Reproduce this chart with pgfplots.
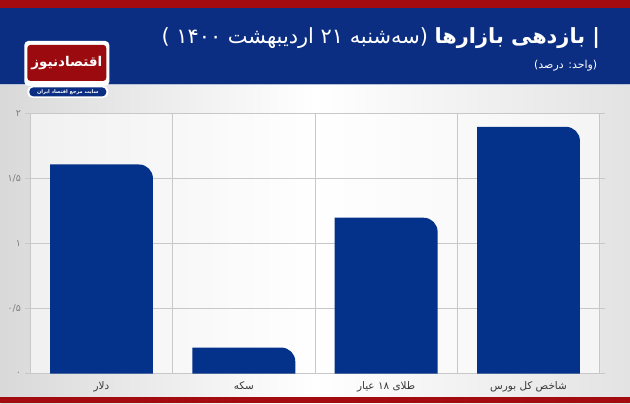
\documentclass[border=0pt]{standalone}
\usepackage{fontspec}
\usepackage{pgfplots}
\pgfplotsset{compat=1.18}
\usetikzlibrary{backgrounds}
\TeXXeTstate=1
\setmainfont{DejaVu Sans}
\newfontfamily\fa[Script=Arabic]{DejaVu Sans}
\definecolor{barblue}{HTML}{04318A}
\definecolor{bandblue}{HTML}{0B2E82}
\definecolor{topred}{HTML}{A30B10}
\definecolor{gridc}{HTML}{C8C8C8}
\definecolor{lbl}{HTML}{3A3A3A}
\newcommand\barshape{%
  \pgfsetfillcolor{barblue}%
  \pgfpathmoveto{\pgfpointanchor{path picture bounding box}{south west}}%
  \pgfpathlineto{\pgfpointanchor{path picture bounding box}{north west}}%
  \pgfpathlineto{\pgfpointadd{\pgfpointanchor{path picture bounding box}{north east}}{\pgfpoint{-14bp}{0pt}}}%
  \pgfpatharc{90}{0}{14bp}%
  \pgfpathlineto{\pgfpointanchor{path picture bounding box}{south east}}%
  \pgfpathclose
  \pgfusepath{fill}}
\pgfplotsset{roundbar/.style={ybar, bar width=103bp, bar shift=0pt, draw=none, fill=none, path picture={\barshape}}}
\begin{document}
\begin{tikzpicture}
\begin{axis}[
  width=570bp, height=260bp, scale only axis,
  xmin=-0.5, xmax=3.5, ymin=0, ymax=2,
  axis background/.style={fill=white, fill opacity=0.6},
  axis line style={gridc, line width=0.8bp},
  ytick={0,0.5,1,1.5,2},
  yticklabels={۰,۰/۵,۱,۱/۵,۲},
  xtick={0,1,2,3},
  xticklabels={{\beginR دلار\endR},{\beginR سکه\endR},{\beginR طلای ۱۸ عیار\endR},{\beginR شاخص کل بورس\endR}},
  minor xtick={-0.5,0.5,1.5,2.5,3.5},
  xminorgrids, ymajorgrids,
  grid style={gridc, line width=0.8bp},
  minor grid style={gridc, line width=0.8bp},
  major x tick style={draw=none},
  minor x tick style={draw=none},
  ytick style={gridc, line width=0.8bp},
  tick align=outside,
  major tick length=5bp,
  yticklabel style={font=\fa\fontsize{9.5}{10}\selectfont, text=gray, xshift=-1bp},
  xticklabel style={font=\fa\fontsize{10.5}{12}\selectfont, text=lbl},
  clip=false,
]
\addplot[roundbar] coordinates {(0,1.61)};
\addplot[roundbar] coordinates {(1,0.2)};
\addplot[roundbar] coordinates {(2,1.2)};
\addplot[roundbar] coordinates {(3,1.9)};
\coordinate (O) at (rel axis cs:0,0);
\end{axis}
\begin{scope}[on background layer, x=1bp, y=1bp, shift={(O)}, xshift=-30bp, yshift=-30bp]
\shade[left color=gray!30, right color=gray!22, middle color=white] (0,0) rectangle (630,404);
\end{scope}
\begin{scope}[x=1bp, y=1bp, shift={(O)}, xshift=-30bp, yshift=-30bp]
\fill[topred] (0,0) rectangle (630,7);
\fill[bandblue] (0,320) rectangle (630,396);
\fill[topred] (0,396) rectangle (630,404);
\draw[white!70!bandblue, line width=0.8bp] (0,319.6) -- (630,319.6);
% logo
\fill[white, rounded corners=4bp] (24,318) rectangle (109,363);
\fill[topred!95!black, rounded corners=3bp] (27,323) rectangle (106,359);
\node[text=white, inner sep=0pt, font=\fa\bfseries\fontsize{13.5}{15}\selectfont] at (66.5,341) {\beginR اقتصادنیوز\endR};
\fill[white, rounded corners=5bp] (27,306) rectangle (108,318);
\fill[bandblue, rounded corners=4bp] (29,307.5) rectangle (106,316.5);
\node[text=white, font=\fa\bfseries\fontsize{5}{6}\selectfont] at (67.5,312) {\beginR سایت مرجع اقتصاد ایران\endR};
% titles
\node[anchor=east, text=white, font=\fa\fontsize{21}{25}\selectfont] at (604,366) {\beginR\textbf{| بازدهی بازارها} (سه‌شنبه ۲۱ اردیبهشت ۱۴۰۰ )\endR};
\node[anchor=east, text=white, font=\fa\fontsize{11}{13}\selectfont] at (601,338) {\beginR(واحد: درصد)\endR};
\end{scope}
\end{tikzpicture}
\end{document}
